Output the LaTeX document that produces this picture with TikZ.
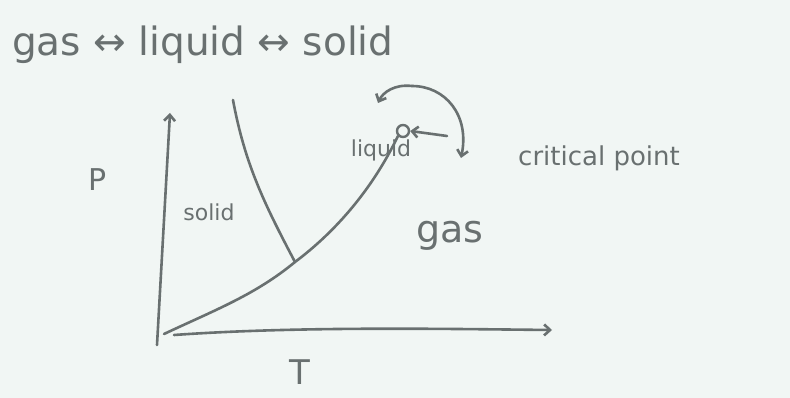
\documentclass[tikz,border=0pt]{standalone}
\usepackage{fontspec}
\setmainfont{DejaVu Sans}
\usetikzlibrary{arrows.meta}
\definecolor{paper}{RGB}{241,246,244}
\definecolor{pencil}{RGB}{105,112,112}
\tikzset{
  pen/.style={draw=pencil, line width=2.6pt, line cap=round, line join=round},
  lbl/.style={text=pencil, inner sep=0pt, font=\fontsize{26}{30}\selectfont},
  tip/.style={-{Straight Barb[length=6pt,width=11pt]}}
}
\begin{document}
\begin{tikzpicture}[x=1pt,y=-1pt]
\fill[paper] (0,0) rectangle (790,398);
\useasboundingbox (0,0) rectangle (790,398);
% texts
\node[lbl, font=\fontsize{39}{44}\selectfont, anchor=west] (title) at (12,45) {gas ↔ liquid ↔ solid};
\node[lbl, font=\fontsize{30}{34}\selectfont] (P) at (98,180) {P};
\node[lbl, font=\fontsize{34}{38}\selectfont] (T) at (300,372) {T};
\node[lbl, font=\fontsize{22}{26}\selectfont] (solid) at (209,212) {solid};
\node[lbl, font=\fontsize{22}{26}\selectfont] (liquid) at (381,150) {liquid};
\node[lbl, font=\fontsize{38}{42}\selectfont] (gas) at (450,236) {gas};
\node[lbl, anchor=west] (crit) at (518,158) {critical point};
% axes
\coordinate (O) at (164,334);
\coordinate (ytop) at (170,113);
\coordinate (xend) at (552,330);
\draw[pen, tip] (157,345) -- (ytop);
\draw[pen, tip] (174,335) .. controls (300,326) and (450,329) .. (xend);
% critical point
\node[circle, draw=pencil, line width=2.4pt, minimum size=12pt, inner sep=0pt] (cp) at (403,131) {};
% gas-liquid / gas-solid curve
\coordinate (tp) at (295,262);
\draw[pen] (O) .. controls (215,310) and (255,295) .. (tp)
  .. controls (335,232) and (372,190) .. (cp.south west);
% solid-liquid line
\coordinate (sl) at (233,100);
\draw[pen] (sl) .. controls (245,165) and (265,205) .. (tp);
% arrows near critical point
\draw[pen, tip] (447,136) -- (cp.east);
\coordinate (a1) at (378,103);
\coordinate (a2) at (461,158);
\draw[pen, tip] (412,86) .. controls (395,84) and (383,92) .. (a1);
\draw[pen, tip] (412,86) .. controls (445,86) and (470,115) .. (a2);
\end{tikzpicture}
\end{document}
